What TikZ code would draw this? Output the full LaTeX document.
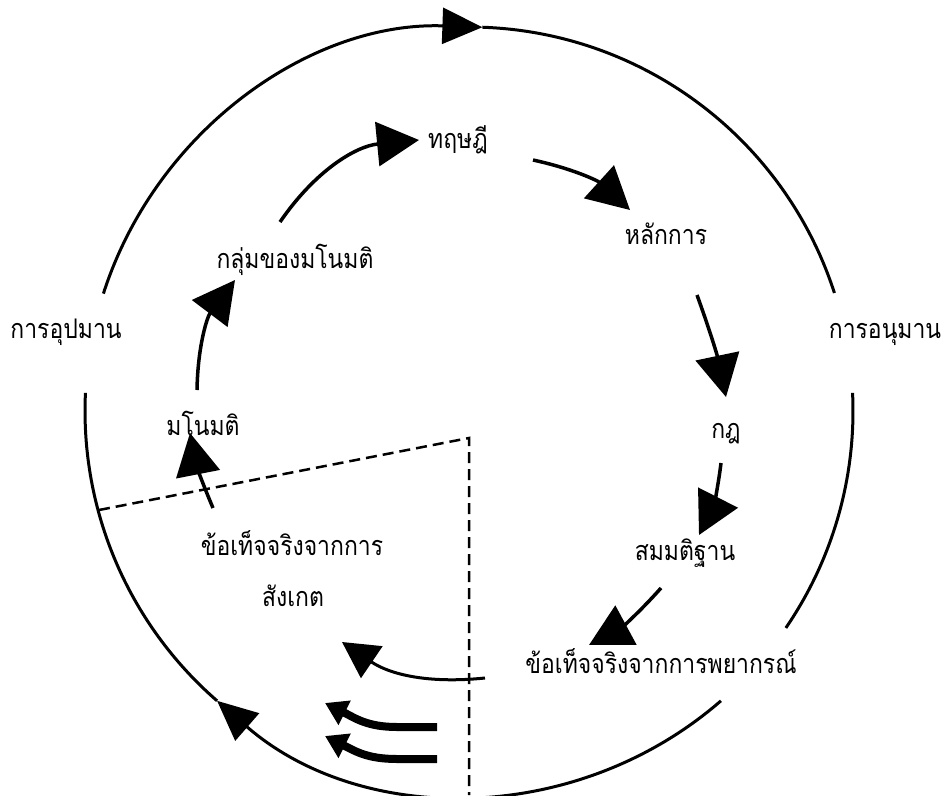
\documentclass[tikz,border=0pt]{standalone}
\usepackage{fontspec}
\newfontfamily\thai[Script=Thai,FakeStretch=0.85]{Loma}
\usetikzlibrary{arrows.meta,calc}
\begin{document}
\begin{tikzpicture}[x=1pt,y=1pt,
  lbl/.style={font=\thai\fontsize{27}{31}\selectfont, inner sep=0pt, anchor=base},
  ring/.style={line width=3pt},
  ringtip/.style={ring,-{Triangle[length=40pt,width=36pt]}},
  flow/.style={line width=3.5pt,-{Triangle[length=42pt,width=44pt]}},
  thinflow/.style={line width=3pt,-{Triangle[length=36pt,width=38pt]}},
  thick flow/.style={line width=8pt,-{Triangle[length=22pt,width=26pt]}},
  border/.style={line width=2.5pt,dash pattern=on 11pt off 6pt}]
\useasboundingbox (0,0) rectangle (942,-795);
\fill[white] (0,0) rectangle (942,-795);
% labels
\node[lbl] (theory) at (458,-148) {ทฤษฎี};
\node[lbl] (principle) at (666,-244) {หลักการ};
\node[lbl] (group) at (295,-268) {กลุ่มของมโนมติ};
\node[lbl] (induct) at (66,-338) {การอุปมาน};
\node[lbl] (deduct) at (885,-338) {การอนุมาน};
\node[lbl] (concept) at (203,-435) {มโนมติ};
\node[lbl] (law) at (726,-438) {กฎ};
\node[lbl] (hyp) at (685,-560) {สมมติฐาน};
\node[lbl] (pred) at (661,-673) {ข้อเท็จจริงจากการพยากรณ์};
\node[lbl] (obs) at (292,-555) {ข้อเท็จจริงจากการ};
\node[lbl] (obs2) at (293,-606) {สังเกต};
% big cycle
\coordinate (c) at (469,-411);
\coordinate (a1) at ($(c)+(162.2:384)$);
\coordinate (a2) at ($(c)+(88:384)$);
\coordinate (a3) at ($(c)+(2.7:384)$);
\coordinate (a4) at ($(c)+(311:384)$);
\coordinate (a5) at ($(c)+(229:384)$);
\draw[ringtip] (a1) arc[start angle=162.2,end angle=88,radius=384];
\draw[ring] (a2) arc[start angle=88,end angle=17.9,radius=384];
\draw[ring] (a3) arc[start angle=2.7,end angle=-34.4,radius=384];
\draw[ringtip] (a4) arc[start angle=-49,end angle=-131,radius=384];
\draw[ring] (a5) arc[start angle=229,end angle=177.3,radius=384];
% dashed boundary
\coordinate (d1) at (99,-510);
\coordinate (d2) at (469,-438);
\coordinate (d3) at (469,-795);
\draw[border] (d1) -- (d2) -- (d3);
% inner arrows
\coordinate (s1) at (213,-508); \coordinate (e1) at (190,-433);
\coordinate (s2) at (197,-390); \coordinate (e2) at (235,-280);
\coordinate (s3) at (280,-222); \coordinate (e3) at (419,-140);
\coordinate (s4) at (533,-160); \coordinate (e4) at (630,-210);
\coordinate (s5) at (697,-295); \coordinate (e5) at (726,-397);
\coordinate (s6) at (721,-463); \coordinate (e6) at (699,-535);
\coordinate (s7) at (661,-588); \coordinate (e7) at (589,-645);
\coordinate (s8) at (485,-678); \coordinate (e8) at (342,-642);
\draw[flow] (s1) to[bend left=6] (e1);
\draw[flow] (s2) to[bend left=18] (e2);
\draw[flow] (s3) to[bend left=25] (e3);
\draw[flow] (s4) to[bend left=15] (e4);
\draw[flow] (s5) to[bend left=4] (e5);
\draw[flow] (s6) to[bend left=10] (e6);
\draw[flow] (s7) to[bend left=10] (e7);
\draw[thinflow] (s8) to[bend left=20] (e8);
% thick arrows
\coordinate (t1s) at (437,-727); \coordinate (t1e) at (325,-703);
\coordinate (t2s) at (437,-759); \coordinate (t2e) at (325,-736);
\draw[thick flow] (t1s) -- ++(-40,0) .. controls +(-30,0) and +(30,-15) .. (t1e);
\draw[thick flow] (t2s) -- ++(-40,0) .. controls +(-30,0) and +(30,-15) .. (t2e);
\end{tikzpicture}
\end{document}
